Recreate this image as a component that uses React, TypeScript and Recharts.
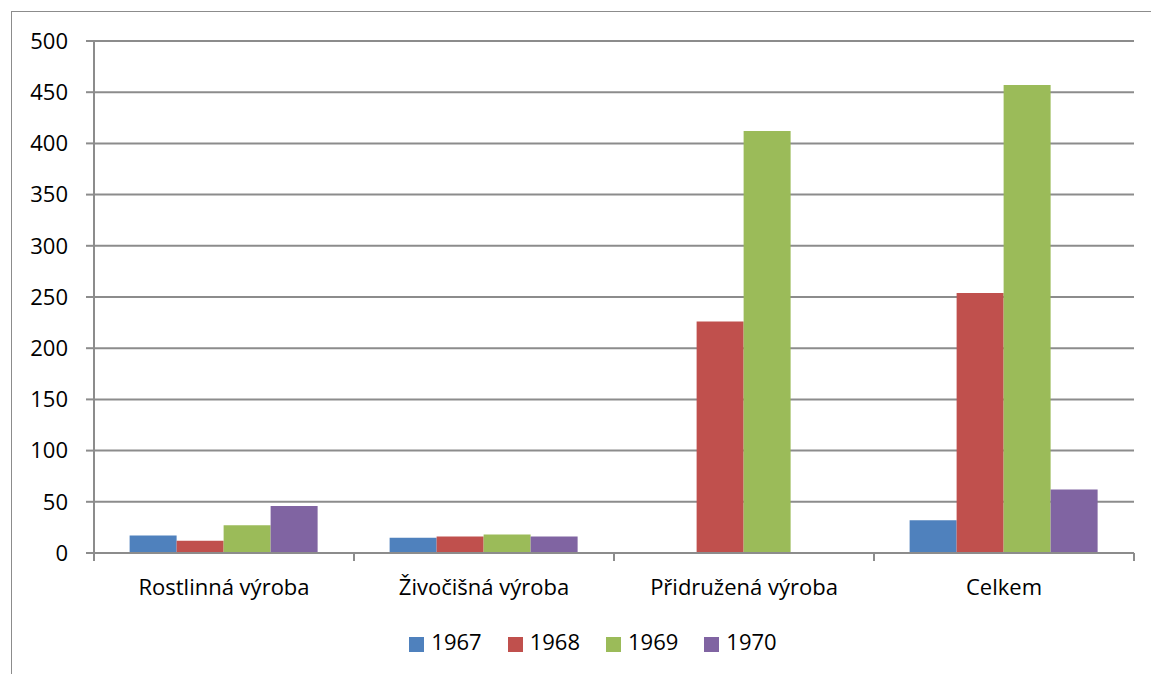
import React from 'react';
import { Bar, BarChart, CartesianGrid, Legend, XAxis, YAxis } from 'recharts';

// Chart data
const categories = ['Rostlinná výroba', 'Živočišná výroba', 'Přidružená výroba', 'Celkem'];
const y1967 = [17, 15, 0, 32];
const y1968 = [12, 16, 226, 254];
const y1969 = [27, 18, 412, 457];
const y1970 = [46, 16, 0, 62];
const yTicks = [0, 50, 100, 150, 200, 250, 300, 350, 400, 450, 500];

const seriesNames = ['1967', '1968', '1969', '1970'];
const seriesColors = ['#4F81BD', '#C0504D', '#9BBB59', '#8064A2'];
const seriesValues = [y1967, y1968, y1969, y1970];

const data = categories.map((name, i) => {
  const row: Record<string, string | number> = { name };
  seriesNames.forEach((s, j) => {
    row[s] = seriesValues[j][i];
  });
  return row;
});

const WIDTH = 1140;
const HEIGHT = 663;
const MARGIN = { top: 29, right: 18, left: 22, bottom: 32 };
const Y_AXIS_WIDTH = 60;
const GRID = '#8c8c8c';
const FONT = '"Open Sans", sans-serif';

const CategoryTick = (props: any) => {
  const { x, y, payload, index } = props;
  const plotWidth = WIDTH - MARGIN.left - MARGIN.right - Y_AXIS_WIDTH;
  const half = payload && payload.offset ? payload.offset : plotWidth / categories.length / 2;
  return (
    <g>
      <line x1={x - half} x2={x - half} y1={y} y2={y + 8} stroke={GRID} strokeWidth={2} />
      {index === categories.length - 1 && (
        <line x1={x + half} x2={x + half} y1={y} y2={y + 8} stroke={GRID} strokeWidth={2} />
      )}
      <text x={x} y={y + 42} textAnchor="middle" fill="#000" fontSize={22} fontFamily={FONT}>
        {payload.value}
      </text>
    </g>
  );
};

const App: React.FC = () => {
  return (
    <div
      style={{
        position: 'fixed',
        left: 11,
        top: 11,
        width: 1200,
        height: 700,
        border: '1px solid #8c8c8c',
        background: '#fff',
      }}
    >
      <BarChart
        width={WIDTH}
        height={HEIGHT}
        data={data}
        margin={MARGIN}
        barCategoryGap="13.7%"
        barGap={0}
      >
        <CartesianGrid vertical={false} stroke={GRID} strokeWidth={2} />
        <XAxis
          dataKey="name"
          height={60}
          axisLine={{ stroke: GRID, strokeWidth: 2 }}
          tickLine={false}
          tickSize={0}
          tickMargin={0}
          interval={0}
          tick={<CategoryTick />}
        />
        <YAxis
          width={Y_AXIS_WIDTH}
          domain={[0, 500]}
          ticks={yTicks}
          interval={0}
          axisLine={{ stroke: GRID, strokeWidth: 2 }}
          tickLine={{ stroke: GRID, strokeWidth: 2 }}
          tickSize={8}
          tickMargin={18}
          tick={{ fill: '#000', fontSize: 22, fontFamily: FONT }}
        />
        <Legend
          verticalAlign="bottom"
          iconType="square"
          iconSize={15}
          wrapperStyle={{ top: 614, paddingLeft: 22, fontFamily: FONT, fontSize: 22 }}
          formatter={(value: string) => (
            <span style={{ color: '#000', marginLeft: 3, marginRight: 16 }}>{value}</span>
          )}
        />
        {seriesNames.map((s, j) => (
          <Bar key={s} dataKey={s} fill={seriesColors[j]} isAnimationActive={false} />
        ))}
      </BarChart>
    </div>
  );
};

export default App;
